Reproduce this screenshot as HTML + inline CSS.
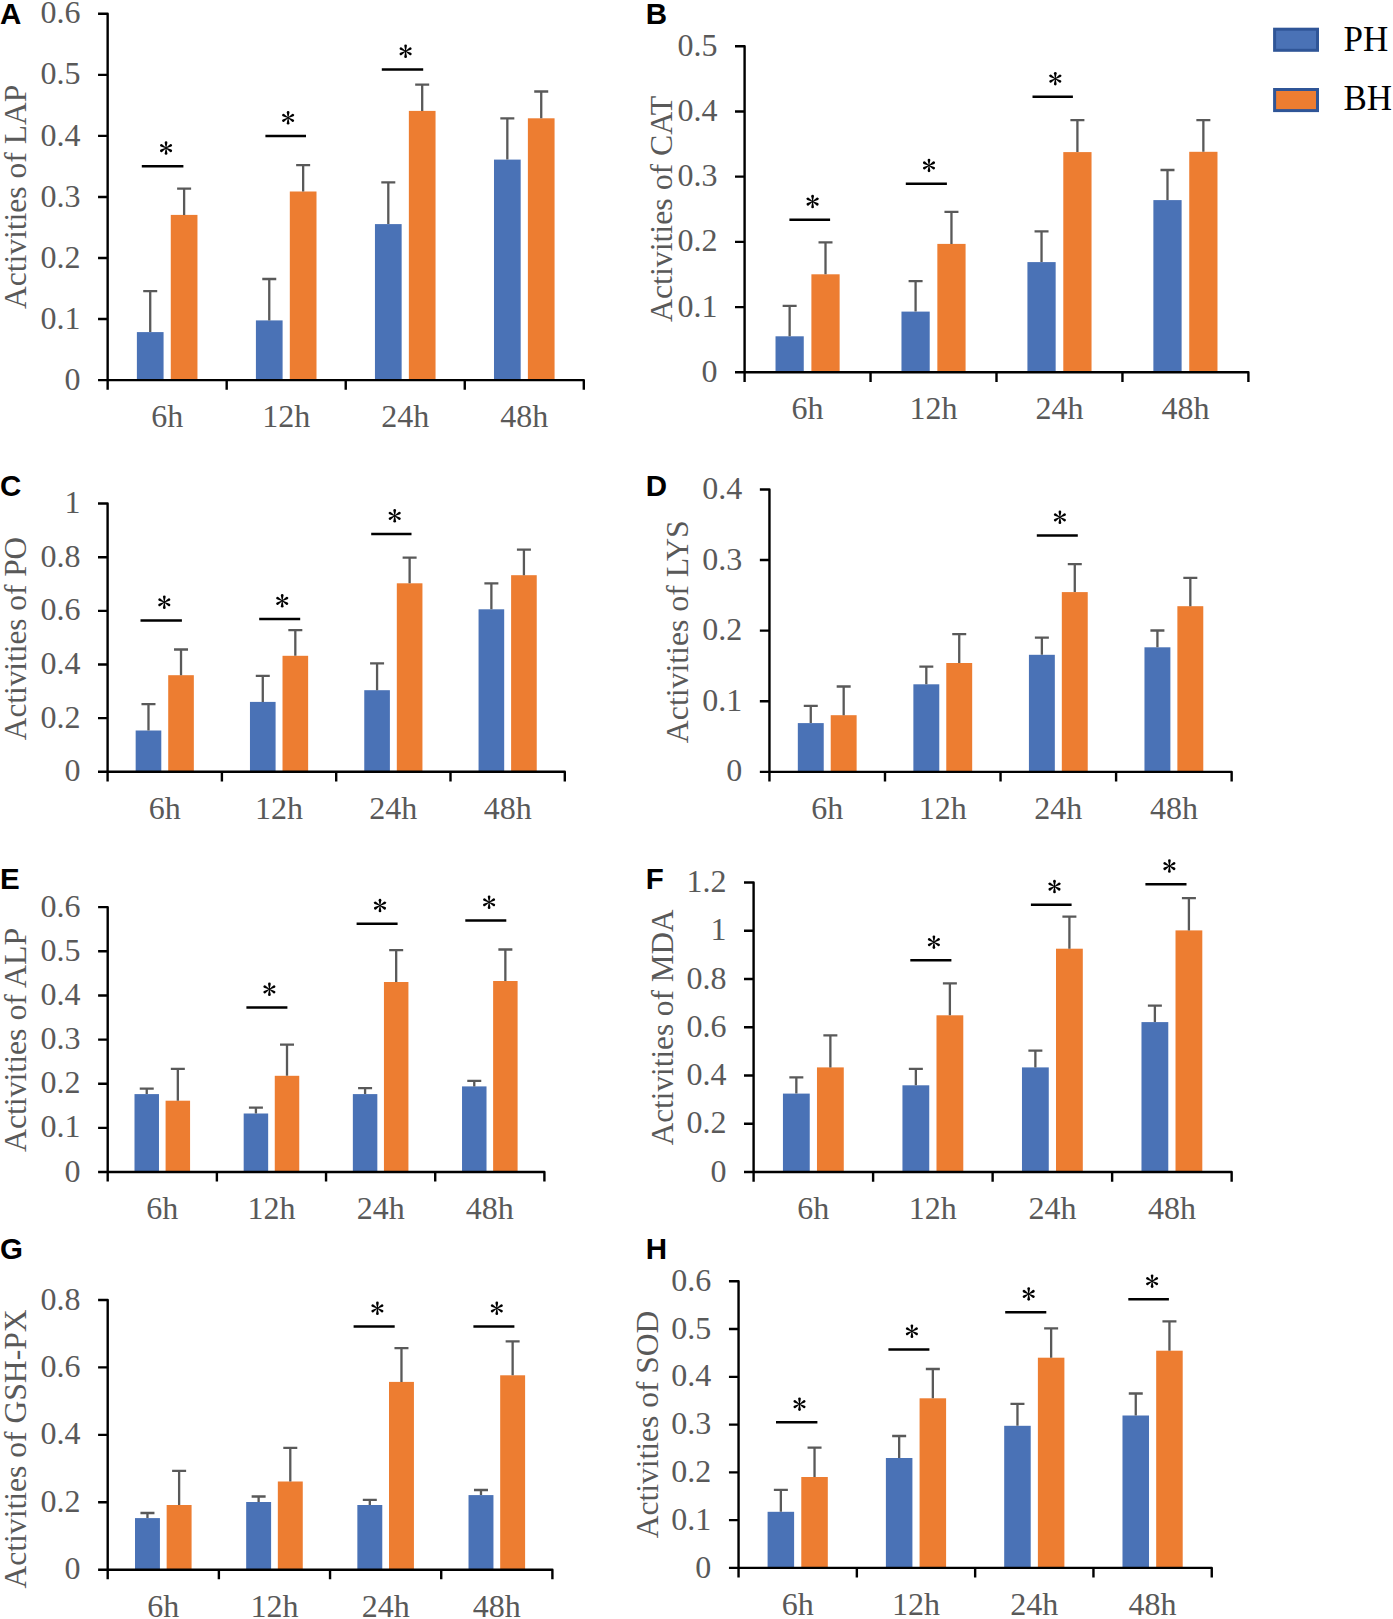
<!DOCTYPE html>
<html><head><meta charset="utf-8"><title>Enzyme activities</title>
<style>
html,body{margin:0;padding:0;background:#fff;}
svg{display:block;}
text{font-family:"Liberation Serif",serif;}
.yl{font-size:32px;fill:#595959;text-anchor:end;}
.xl{font-size:32px;fill:#595959;text-anchor:middle;}
.lg{font-size:35px;fill:#000;}
.pl{font-family:"Liberation Sans",sans-serif;font-weight:bold;font-size:29.5px;fill:#000;}
.a{stroke:#000;stroke-width:2.4;fill:none;stroke-linecap:butt;stroke-linejoin:round;}
.e{stroke:#595959;stroke-width:2.3;fill:none;}
.s{stroke:#000;stroke-width:2.5;fill:none;stroke-linecap:butt;}
</style></head>
<body>
<svg width="1393" height="1619" viewBox="0 0 1393 1619">
<defs><g id="ast" fill="#000"><path d="M-0.3 0L-1.35 -5.4A1.35 1.35 0 0 1 1.35 -5.4L0.3 0Z" transform="rotate(0)"/><path d="M-0.3 0L-1.35 -5.4A1.35 1.35 0 0 1 1.35 -5.4L0.3 0Z" transform="rotate(60)"/><path d="M-0.3 0L-1.35 -5.4A1.35 1.35 0 0 1 1.35 -5.4L0.3 0Z" transform="rotate(120)"/><path d="M-0.3 0L-1.35 -5.4A1.35 1.35 0 0 1 1.35 -5.4L0.3 0Z" transform="rotate(180)"/><path d="M-0.3 0L-1.35 -5.4A1.35 1.35 0 0 1 1.35 -5.4L0.3 0Z" transform="rotate(240)"/><path d="M-0.3 0L-1.35 -5.4A1.35 1.35 0 0 1 1.35 -5.4L0.3 0Z" transform="rotate(300)"/><circle r="0.9"/></g></defs>
<g id="pA"><rect x="136.88" y="332.1" width="26.69" height="48" fill="#4A72B6"/><rect x="170.77" y="214.9" width="26.69" height="165.2" fill="#ED7D31"/><path d="M150.22 332.1V291.1M143.22 291.1H157.22" class="e"/><path d="M184.12 214.9V188.6M177.12 188.6H191.12" class="e"/><rect x="255.91" y="320.4" width="26.69" height="59.7" fill="#4A72B6"/><rect x="289.81" y="191.5" width="26.69" height="188.6" fill="#ED7D31"/><path d="M269.26 320.4V279M262.26 279H276.26" class="e"/><path d="M303.15 191.5V165.1M296.15 165.1H310.15" class="e"/><rect x="374.95" y="224.1" width="26.69" height="156" fill="#4A72B6"/><rect x="408.85" y="110.9" width="26.69" height="269.2" fill="#ED7D31"/><path d="M388.3 224.1V182.4M381.3 182.4H395.3" class="e"/><path d="M422.19 110.9V84.6M415.19 84.6H429.19" class="e"/><rect x="493.99" y="159.6" width="26.69" height="220.5" fill="#4A72B6"/><rect x="527.88" y="118.3" width="26.69" height="261.8" fill="#ED7D31"/><path d="M507.33 159.6V118.3M500.33 118.3H514.33" class="e"/><path d="M541.23 118.3V91.5M534.23 91.5H548.23" class="e"/><path d="M98.05 13.8H107.65V380.1M98.05 380.1H583.8V389.7M98.05 319.05H107.65M98.05 258H107.65M98.05 196.95H107.65M98.05 135.9H107.65M98.05 74.85H107.65M107.65 380.1V389.7M226.69 380.1V389.7M345.73 380.1V389.7M464.76 380.1V389.7" class="a"/><text x="80.45" y="389.7" class="yl">0</text><text x="80.45" y="328.65" class="yl">0.1</text><text x="80.45" y="267.6" class="yl">0.2</text><text x="80.45" y="206.55" class="yl">0.3</text><text x="80.45" y="145.5" class="yl">0.4</text><text x="80.45" y="84.45" class="yl">0.5</text><text x="80.45" y="23.4" class="yl">0.6</text><text x="167.17" y="427.1" class="xl">6h</text><text x="286.21" y="427.1" class="xl">12h</text><text x="405.24" y="427.1" class="xl">24h</text><text x="524.28" y="427.1" class="xl">48h</text><text transform="translate(26.1 196.9) rotate(-90) scale(0.9858 1)" class="xl">Activities of LAP</text><path d="M141.8 166.25H183.4" class="s"/><use href="#ast" x="166.05" y="148.05"/><path d="M265.4 136.05H306" class="s"/><use href="#ast" x="288.1" y="117.85"/><path d="M381.8 69.45H423.2" class="s"/><use href="#ast" x="405.6" y="51.25"/><text x="0" y="24" class="pl">A</text></g><g id="pB"><rect x="775.52" y="336.3" width="28.24" height="36" fill="#4A72B6"/><rect x="811.39" y="274.3" width="28.24" height="98" fill="#ED7D31"/><path d="M789.64 336.3V305.9M782.64 305.9H796.64" class="e"/><path d="M825.51 274.3V242.3M818.51 242.3H832.51" class="e"/><rect x="901.47" y="311.6" width="28.24" height="60.7" fill="#4A72B6"/><rect x="937.34" y="243.9" width="28.24" height="128.4" fill="#ED7D31"/><path d="M915.59 311.6V281.1M908.59 281.1H922.59" class="e"/><path d="M951.46 243.9V211.9M944.46 211.9H958.46" class="e"/><rect x="1027.42" y="262.1" width="28.24" height="110.2" fill="#4A72B6"/><rect x="1063.29" y="152.1" width="28.24" height="220.2" fill="#ED7D31"/><path d="M1041.54 262.1V231.3M1034.54 231.3H1048.54" class="e"/><path d="M1077.41 152.1V120.2M1070.41 120.2H1084.41" class="e"/><rect x="1153.37" y="200.1" width="28.24" height="172.2" fill="#4A72B6"/><rect x="1189.24" y="151.8" width="28.24" height="220.5" fill="#ED7D31"/><path d="M1167.49 200.1V170M1160.49 170H1174.49" class="e"/><path d="M1203.36 151.8V120.2M1196.36 120.2H1210.36" class="e"/><path d="M735 46.25H744.6V372.3M735 372.3H1248.4V381.9M735 307.09H744.6M735 241.88H744.6M735 176.67H744.6M735 111.46H744.6M744.6 372.3V381.9M870.55 372.3V381.9M996.5 372.3V381.9M1122.45 372.3V381.9" class="a"/><text x="717.4" y="381.9" class="yl">0</text><text x="717.4" y="316.69" class="yl">0.1</text><text x="717.4" y="251.48" class="yl">0.2</text><text x="717.4" y="186.27" class="yl">0.3</text><text x="717.4" y="121.06" class="yl">0.4</text><text x="717.4" y="55.85" class="yl">0.5</text><text x="807.58" y="419.3" class="xl">6h</text><text x="933.53" y="419.3" class="xl">12h</text><text x="1059.47" y="419.3" class="xl">24h</text><text x="1185.43" y="419.3" class="xl">48h</text><text transform="translate(672 208.9) rotate(-90) scale(0.9951 1)" class="xl">Activities of CAT</text><path d="M789.4 219.75H830.1" class="s"/><use href="#ast" x="812.6" y="201.55"/><path d="M905.8 183.65H946.9" class="s"/><use href="#ast" x="929" y="165.45"/><path d="M1032.5 96.85H1072.9" class="s"/><use href="#ast" x="1055.3" y="78.65"/><text x="645.7" y="24" class="pl">B</text></g><g id="pC"><rect x="135.66" y="730.5" width="25.63" height="41.3" fill="#4A72B6"/><rect x="168.21" y="675.2" width="25.63" height="96.6" fill="#ED7D31"/><path d="M148.48 730.5V704.1M141.48 704.1H155.48" class="e"/><path d="M181.02 675.2V649.5M174.02 649.5H188.02" class="e"/><rect x="249.96" y="701.9" width="25.63" height="69.9" fill="#4A72B6"/><rect x="282.51" y="655.8" width="25.63" height="116" fill="#ED7D31"/><path d="M262.78 701.9V675.9M255.78 675.9H269.78" class="e"/><path d="M295.32 655.8V630.1M288.32 630.1H302.32" class="e"/><rect x="364.26" y="690.2" width="25.63" height="81.6" fill="#4A72B6"/><rect x="396.81" y="583.3" width="25.63" height="188.5" fill="#ED7D31"/><path d="M377.08 690.2V663.4M370.08 663.4H384.08" class="e"/><path d="M409.62 583.3V557.6M402.62 557.6H416.62" class="e"/><rect x="478.56" y="609.3" width="25.63" height="162.5" fill="#4A72B6"/><rect x="511.11" y="575.2" width="25.63" height="196.6" fill="#ED7D31"/><path d="M491.38 609.3V583.3M484.38 583.3H498.38" class="e"/><path d="M523.92 575.2V549.6M516.92 549.6H530.92" class="e"/><path d="M98 503.55H107.6V771.8M98 771.8H564.8V781.4M98 718.15H107.6M98 664.5H107.6M98 610.85H107.6M98 557.2H107.6M107.6 771.8V781.4M221.9 771.8V781.4M336.2 771.8V781.4M450.5 771.8V781.4" class="a"/><text x="80.4" y="781.4" class="yl">0</text><text x="80.4" y="727.75" class="yl">0.2</text><text x="80.4" y="674.1" class="yl">0.4</text><text x="80.4" y="620.45" class="yl">0.6</text><text x="80.4" y="566.8" class="yl">0.8</text><text x="80.4" y="513.15" class="yl">1</text><text x="164.75" y="818.8" class="xl">6h</text><text x="279.05" y="818.8" class="xl">12h</text><text x="393.35" y="818.8" class="xl">24h</text><text x="507.65" y="818.8" class="xl">48h</text><text transform="translate(26.2 638.5) rotate(-90) scale(0.9786 1)" class="xl">Activities of PO</text><path d="M140.5 620.45H181.9" class="s"/><use href="#ast" x="164.3" y="602.25"/><path d="M259.2 619.05H300.2" class="s"/><use href="#ast" x="282.2" y="600.85"/><path d="M371.2 534.05H411.5" class="s"/><use href="#ast" x="394.7" y="515.85"/><text x="0" y="495.8" class="pl">C</text></g><g id="pD"><rect x="797.82" y="723.1" width="25.91" height="48.75" fill="#4A72B6"/><rect x="830.72" y="715.2" width="25.91" height="56.65" fill="#ED7D31"/><path d="M810.77 723.1V705.9M803.77 705.9H817.77" class="e"/><path d="M843.68 715.2V686.5M836.68 686.5H850.68" class="e"/><rect x="913.37" y="684.3" width="25.91" height="87.55" fill="#4A72B6"/><rect x="946.27" y="663" width="25.91" height="108.85" fill="#ED7D31"/><path d="M926.32 684.3V666.7M919.32 666.7H933.32" class="e"/><path d="M959.23 663V634.2M952.23 634.2H966.23" class="e"/><rect x="1028.92" y="654.8" width="25.91" height="117.05" fill="#4A72B6"/><rect x="1061.82" y="592.1" width="25.91" height="179.75" fill="#ED7D31"/><path d="M1041.87 654.8V637.6M1034.87 637.6H1048.87" class="e"/><path d="M1074.78 592.1V564.1M1067.78 564.1H1081.78" class="e"/><rect x="1144.47" y="647.3" width="25.91" height="124.55" fill="#4A72B6"/><rect x="1177.37" y="606.2" width="25.91" height="165.65" fill="#ED7D31"/><path d="M1157.42 647.3V630.5M1150.42 630.5H1164.42" class="e"/><path d="M1190.33 606.2V577.9M1183.33 577.9H1197.33" class="e"/><path d="M759.85 489.45H769.45V771.85M759.85 771.85H1231.65V781.45M759.85 701.25H769.45M759.85 630.65H769.45M759.85 560.05H769.45M769.45 771.85V781.45M885 771.85V781.45M1000.55 771.85V781.45M1116.1 771.85V781.45" class="a"/><text x="742.25" y="781.45" class="yl">0</text><text x="742.25" y="710.85" class="yl">0.1</text><text x="742.25" y="640.25" class="yl">0.2</text><text x="742.25" y="569.65" class="yl">0.3</text><text x="742.25" y="499.05" class="yl">0.4</text><text x="827.23" y="818.85" class="xl">6h</text><text x="942.78" y="818.85" class="xl">12h</text><text x="1058.33" y="818.85" class="xl">24h</text><text x="1173.88" y="818.85" class="xl">48h</text><text transform="translate(687.8 631.8) rotate(-90) scale(0.9932 1)" class="xl">Activities of LYS</text><path d="M1036.8 535.55H1077.8" class="s"/><use href="#ast" x="1059.9" y="517.35"/><text x="645.7" y="495.8" class="pl">D</text></g><g id="pE"><rect x="134.5" y="1094.1" width="24.48" height="77.9" fill="#4A72B6"/><rect x="165.59" y="1100.7" width="24.48" height="71.3" fill="#ED7D31"/><path d="M146.74 1094.1V1088.6M139.74 1088.6H153.74" class="e"/><path d="M177.83 1100.7V1068.8M170.83 1068.8H184.83" class="e"/><rect x="243.68" y="1113.5" width="24.48" height="58.5" fill="#4A72B6"/><rect x="274.77" y="1075.8" width="24.48" height="96.2" fill="#ED7D31"/><path d="M255.92 1113.5V1107.6M248.92 1107.6H262.92" class="e"/><path d="M287.01 1075.8V1044.7M280.01 1044.7H294.01" class="e"/><rect x="352.85" y="1094.1" width="24.48" height="77.9" fill="#4A72B6"/><rect x="383.94" y="982" width="24.48" height="190" fill="#ED7D31"/><path d="M365.09 1094.1V1088.2M358.09 1088.2H372.09" class="e"/><path d="M396.18 982V950.2M389.18 950.2H403.18" class="e"/><rect x="462.03" y="1086.4" width="24.48" height="85.6" fill="#4A72B6"/><rect x="493.12" y="981" width="24.48" height="191" fill="#ED7D31"/><path d="M474.27 1086.4V1080.9M467.27 1080.9H481.27" class="e"/><path d="M505.36 981V949.5M498.36 949.5H512.36" class="e"/><path d="M98.1 907.15H107.7V1172M98.1 1172H544.4V1181.6M98.1 1127.86H107.7M98.1 1083.72H107.7M98.1 1039.58H107.7M98.1 995.43H107.7M98.1 951.29H107.7M107.7 1172V1181.6M216.88 1172V1181.6M326.05 1172V1181.6M435.22 1172V1181.6" class="a"/><text x="80.5" y="1181.6" class="yl">0</text><text x="80.5" y="1137.46" class="yl">0.1</text><text x="80.5" y="1093.32" class="yl">0.2</text><text x="80.5" y="1049.17" class="yl">0.3</text><text x="80.5" y="1005.03" class="yl">0.4</text><text x="80.5" y="960.89" class="yl">0.5</text><text x="80.5" y="916.75" class="yl">0.6</text><text x="162.29" y="1219" class="xl">6h</text><text x="271.46" y="1219" class="xl">12h</text><text x="380.64" y="1219" class="xl">24h</text><text x="489.81" y="1219" class="xl">48h</text><text transform="translate(26.2 1040) rotate(-90) scale(0.9933 1)" class="xl">Activities of ALP</text><path d="M246.4 1007.55H287.4" class="s"/><use href="#ast" x="269.4" y="989.35"/><path d="M356.6 923.75H397.6" class="s"/><use href="#ast" x="380" y="905.55"/><path d="M465.3 920.45H506.3" class="s"/><use href="#ast" x="489.1" y="902.25"/><text x="0" y="889.4" class="pl">E</text></g><g id="pF"><rect x="782.94" y="1093.6" width="26.8" height="78.45" fill="#4A72B6"/><rect x="816.97" y="1067.4" width="26.8" height="104.65" fill="#ED7D31"/><path d="M796.34 1093.6V1077.3M789.34 1077.3H803.34" class="e"/><path d="M830.37 1067.4V1035.4M823.37 1035.4H837.37" class="e"/><rect x="902.45" y="1085.3" width="26.8" height="86.75" fill="#4A72B6"/><rect x="936.49" y="1015.3" width="26.8" height="156.75" fill="#ED7D31"/><path d="M915.85 1085.3V1068.9M908.85 1068.9H922.85" class="e"/><path d="M949.88 1015.3V983.3M942.88 983.3H956.88" class="e"/><rect x="1021.97" y="1067.4" width="26.8" height="104.65" fill="#4A72B6"/><rect x="1056" y="948.7" width="26.8" height="223.35" fill="#ED7D31"/><path d="M1035.37 1067.4V1050.6M1028.37 1050.6H1042.37" class="e"/><path d="M1069.4 948.7V916.7M1062.4 916.7H1076.4" class="e"/><rect x="1141.48" y="1022.1" width="26.8" height="149.95" fill="#4A72B6"/><rect x="1175.51" y="930.4" width="26.8" height="241.65" fill="#ED7D31"/><path d="M1154.88 1022.1V1005.7M1147.88 1005.7H1161.88" class="e"/><path d="M1188.91 930.4V898.1M1181.91 898.1H1195.91" class="e"/><path d="M744 882.55H753.6V1172.05M744 1172.05H1231.65V1181.65M744 1123.8H753.6M744 1075.55H753.6M744 1027.3H753.6M744 979.05H753.6M744 930.8H753.6M753.6 1172.05V1181.65M873.11 1172.05V1181.65M992.62 1172.05V1181.65M1112.14 1172.05V1181.65" class="a"/><text x="726.4" y="1181.65" class="yl">0</text><text x="726.4" y="1133.4" class="yl">0.2</text><text x="726.4" y="1085.15" class="yl">0.4</text><text x="726.4" y="1036.9" class="yl">0.6</text><text x="726.4" y="988.65" class="yl">0.8</text><text x="726.4" y="940.4" class="yl">1</text><text x="726.4" y="892.15" class="yl">1.2</text><text x="813.36" y="1219.05" class="xl">6h</text><text x="932.87" y="1219.05" class="xl">12h</text><text x="1052.38" y="1219.05" class="xl">24h</text><text x="1171.89" y="1219.05" class="xl">48h</text><text transform="translate(673 1027.4) rotate(-90) scale(0.9755 1)" class="xl">Activities of MDA</text><path d="M910.3 960.35H951.4" class="s"/><use href="#ast" x="933.9" y="942.15"/><path d="M1030.9 904.75H1071.6" class="s"/><use href="#ast" x="1054.5" y="886.55"/><path d="M1145.4 884.25H1186.5" class="s"/><use href="#ast" x="1169.4" y="866.05"/><text x="645.7" y="889.3" class="pl">F</text></g><g id="pG"><rect x="135" y="1518.1" width="24.93" height="51.6" fill="#4A72B6"/><rect x="166.65" y="1505" width="24.93" height="64.7" fill="#ED7D31"/><path d="M147.46 1518.1V1513M140.46 1513H154.46" class="e"/><path d="M179.12 1505V1470.9M172.12 1470.9H186.12" class="e"/><rect x="246.17" y="1502" width="24.93" height="67.7" fill="#4A72B6"/><rect x="277.83" y="1481.5" width="24.93" height="88.2" fill="#ED7D31"/><path d="M258.63 1502V1496.5M251.63 1496.5H265.63" class="e"/><path d="M290.29 1481.5V1447.8M283.29 1447.8H297.29" class="e"/><rect x="357.35" y="1505" width="24.93" height="64.7" fill="#4A72B6"/><rect x="389" y="1381.9" width="24.93" height="187.8" fill="#ED7D31"/><path d="M369.81 1505V1499.8M362.81 1499.8H376.81" class="e"/><path d="M401.47 1381.9V1348.2M394.47 1348.2H408.47" class="e"/><rect x="468.52" y="1495.1" width="24.93" height="74.6" fill="#4A72B6"/><rect x="500.18" y="1375.3" width="24.93" height="194.4" fill="#ED7D31"/><path d="M480.98 1495.1V1490M473.98 1490H487.98" class="e"/><path d="M512.64 1375.3V1341.3M505.64 1341.3H519.64" class="e"/><path d="M98.1 1300H107.7V1569.7M98.1 1569.7H552.4V1579.3M98.1 1502.28H107.7M98.1 1434.85H107.7M98.1 1367.42H107.7M107.7 1569.7V1579.3M218.88 1569.7V1579.3M330.05 1569.7V1579.3M441.22 1569.7V1579.3" class="a"/><text x="80.5" y="1579.3" class="yl">0</text><text x="80.5" y="1511.88" class="yl">0.2</text><text x="80.5" y="1444.45" class="yl">0.4</text><text x="80.5" y="1377.02" class="yl">0.6</text><text x="80.5" y="1309.6" class="yl">0.8</text><text x="163.29" y="1616.7" class="xl">6h</text><text x="274.46" y="1616.7" class="xl">12h</text><text x="385.64" y="1616.7" class="xl">24h</text><text x="496.81" y="1616.7" class="xl">48h</text><text transform="translate(25.8 1449) rotate(-90) scale(0.9879 1)" class="xl">Activities of GSH-PX</text><path d="M353.6 1326.55H394.7" class="s"/><use href="#ast" x="377.4" y="1308.35"/><path d="M473.4 1326.55H514.4" class="s"/><use href="#ast" x="496.8" y="1308.35"/><text x="0" y="1258.9" class="pl">G</text></g><g id="pH"><rect x="767.59" y="1511.8" width="26.52" height="56.1" fill="#4A72B6"/><rect x="801.28" y="1477" width="26.52" height="90.9" fill="#ED7D31"/><path d="M780.86 1511.8V1489.8M773.86 1489.8H787.86" class="e"/><path d="M814.54 1477V1447.7M807.54 1447.7H821.54" class="e"/><rect x="885.89" y="1458" width="26.52" height="109.9" fill="#4A72B6"/><rect x="919.58" y="1398.3" width="26.52" height="169.6" fill="#ED7D31"/><path d="M899.16 1458V1436M892.16 1436H906.16" class="e"/><path d="M932.84 1398.3V1369M925.84 1369H939.84" class="e"/><rect x="1004.19" y="1425.8" width="26.52" height="142.1" fill="#4A72B6"/><rect x="1037.88" y="1357.7" width="26.52" height="210.2" fill="#ED7D31"/><path d="M1017.46 1425.8V1403.8M1010.46 1403.8H1024.46" class="e"/><path d="M1051.14 1357.7V1328.4M1044.14 1328.4H1058.14" class="e"/><rect x="1122.49" y="1415.5" width="26.52" height="152.4" fill="#4A72B6"/><rect x="1156.18" y="1350.7" width="26.52" height="217.2" fill="#ED7D31"/><path d="M1135.76 1415.5V1393.5M1128.76 1393.5H1142.76" class="e"/><path d="M1169.44 1350.7V1321.4M1162.44 1321.4H1176.44" class="e"/><path d="M728.95 1281.3H738.55V1567.9M728.95 1567.9H1211.75V1577.5M728.95 1520.13H738.55M728.95 1472.37H738.55M728.95 1424.6H738.55M728.95 1376.83H738.55M728.95 1329.07H738.55M738.55 1567.9V1577.5M856.85 1567.9V1577.5M975.15 1567.9V1577.5M1093.45 1567.9V1577.5" class="a"/><text x="711.35" y="1577.5" class="yl">0</text><text x="711.35" y="1529.73" class="yl">0.1</text><text x="711.35" y="1481.97" class="yl">0.2</text><text x="711.35" y="1434.2" class="yl">0.3</text><text x="711.35" y="1386.43" class="yl">0.4</text><text x="711.35" y="1338.67" class="yl">0.5</text><text x="711.35" y="1290.9" class="yl">0.6</text><text x="797.7" y="1614.9" class="xl">6h</text><text x="916" y="1614.9" class="xl">12h</text><text x="1034.3" y="1614.9" class="xl">24h</text><text x="1152.6" y="1614.9" class="xl">48h</text><text transform="translate(657.9 1424.5) rotate(-90) scale(0.9856 1)" class="xl">Activities of SOD</text><path d="M776 1422.35H817.4" class="s"/><use href="#ast" x="799.5" y="1404.15"/><path d="M888.4 1349.45H929.4" class="s"/><use href="#ast" x="911.9" y="1331.25"/><path d="M1005.2 1312.15H1046.3" class="s"/><use href="#ast" x="1028.7" y="1293.95"/><path d="M1128.3 1299.35H1168.9" class="s"/><use href="#ast" x="1152.1" y="1281.15"/><text x="645.7" y="1258.8" class="pl">H</text></g>
<rect x="1274.6" y="29.2" width="42.9" height="21.1" fill="#4A72B6" stroke="#2F5597" stroke-width="3"/><rect x="1274.6" y="89.5" width="42.9" height="21.1" fill="#ED7D31" stroke="#2F5597" stroke-width="3"/><text x="1343.5" y="50.5" class="lg">PH</text><text x="1343.5" y="110.4" class="lg">BH</text>
</svg>
</body></html>
